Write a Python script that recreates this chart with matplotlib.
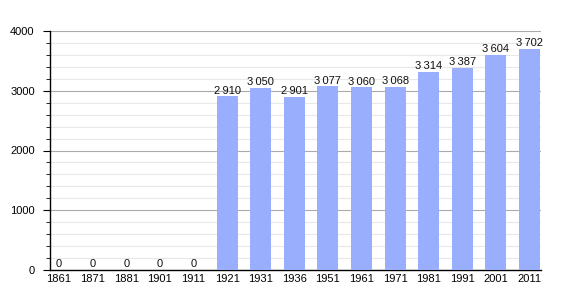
import matplotlib
matplotlib.use("Agg")
import matplotlib.pyplot as plt
from matplotlib.ticker import MultipleLocator

years = ["1861", "1871", "1881", "1901", "1911", "1921", "1931", "1936",
         "1951", "1961", "1971", "1981", "1991", "2001", "2011"]
population = [0, 0, 0, 0, 0, 2910, 3050, 2901, 3077, 3060, 3068, 3314, 3387, 3604, 3702]

plt.rcParams['font.family'] = ['Liberation Sans', 'DejaVu Sans']

fig = plt.figure(figsize=(5.7, 3.0), dpi=100)
ax = fig.add_axes([50/570, 30/300, 491/570, 239/300])

x = list(range(len(years)))
ax.bar(x, population, width=0.625, color='#99aefc', zorder=3)

for xi, v in zip(x, population):
    label = f"{v:,}".replace(",", "\u2009")
    ax.text(xi, v + 10, label, ha='center', va='bottom', fontsize=8, color='#111111', zorder=4)

ax.set_xlim(-0.27, len(years) - 1 + 0.34)
ax.set_ylim(0, 4000)
ax.set_xticks(x)
ax.set_xticklabels(years, fontsize=8)
ax.tick_params(axis='x', length=0, pad=3)
ax.yaxis.set_major_locator(MultipleLocator(1000))
ax.yaxis.set_minor_locator(MultipleLocator(200))
ax.tick_params(axis='y', which='major', length=5, labelsize=8, pad=6)
ax.tick_params(axis='y', which='minor', length=3)
ax.grid(axis='y', which='major', color='#aaaaaa', linewidth=0.8, zorder=1)
ax.grid(axis='y', which='minor', color='#e8e8e8', linewidth=0.8, zorder=1)
ax.spines['top'].set_visible(False)
ax.spines['right'].set_visible(False)
ax.spines['left'].set_linewidth(1.0)
ax.spines['bottom'].set_linewidth(1.0)

fig.savefig("out.png", dpi=100)
